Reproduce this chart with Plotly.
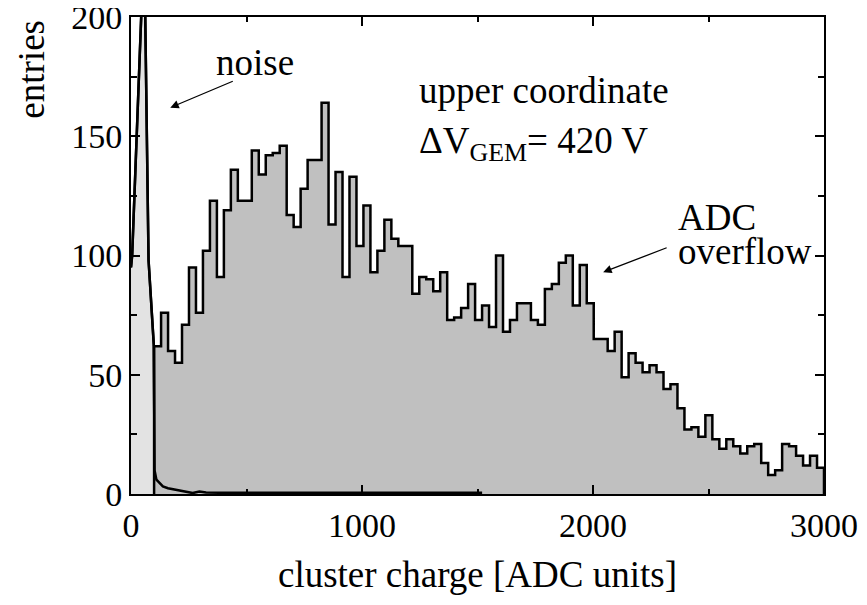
import numpy as np
import plotly.graph_objects as go

# ---- data ----
bin_start = 100
bin_end = 3000
signal_counts = [
    62, 76, 60, 55, 71, 95, 76, 102, 123, 91,
    119, 136, 123, 123, 144, 134, 142, 143, 146, 117,
    112, 128, 140, 140, 164, 113, 135, 91, 133, 104,
    121, 93, 102, 115, 107, 104, 104, 84, 91, 90,
    85, 93, 73, 74, 78, 88, 73, 79, 70, 100,
    68, 73, 80, 80, 73, 71, 86, 88, 97, 100,
    79, 96, 80, 65, 65, 60, 68, 49, 59, 55,
    51, 54, 51, 44, 46, 36, 27, 28, 24, 33,
    23, 19, 23, 20, 17, 20, 21, 13, 8, 10,
    21, 20, 16, 12, 16, 11,
]
noise_x = [0, 5, 57, 76, 99, 102, 110, 125, 138, 160, 181, 224, 267, 296, 325, 400, 700, 1077, 1100, 1237, 1300, 1520]
noise_y = [95, 100, 233, 98, 62, 10, 6, 4.5, 3.2, 2.4, 2.0, 1.0, 0.4, 1.0, 0.6, 0.5, 0.5, 0.8, 0.5, 0.8, 0.5, 0.5]

x_ticks = [0, 1000, 2000, 3000]
y_ticks = [0, 50, 100, 150, 200]

# ---- build step outline ----
n = len(signal_counts)
edges = np.linspace(bin_start, bin_end, n + 1)
step_x = [edges[0]] + list(edges[:-1]) + [edges[-1], edges[-1]]
step_y = [0] + signal_counts + [signal_counts[-1], 0]

FONT = "Liberation Serif, Times New Roman, serif"

fig = go.Figure()
# noise fill (light grey)
fig.add_trace(go.Scatter(x=noise_x, y=noise_y, mode="lines", fill="tozeroy",
                         fillcolor="#e3e3e3", line=dict(color="black", width=2.5),
                         hoverinfo="skip", showlegend=False))
# signal histogram
fig.add_trace(go.Scatter(x=step_x, y=step_y, mode="lines", line_shape="hv",
                         fill="tozeroy", fillcolor="#c0c0c0",
                         line=dict(color="black", width=2.5),
                         hoverinfo="skip", showlegend=False))
# noise line on top
fig.add_trace(go.Scatter(x=noise_x, y=noise_y, mode="lines",
                         line=dict(color="black", width=2.5),
                         hoverinfo="skip", showlegend=False))

ann_font = dict(family=FONT, size=37, color="black")
fig.add_annotation(x=0.4126, y=0.845, xref="paper", yref="paper", text="upper coordinate",
                   showarrow=False, xanchor="left", yanchor="middle", font=ann_font)
fig.add_annotation(x=0.4126, y=0.735, xref="paper", yref="paper",
                   text="ΔV<sub>GEM</sub>= 420 V",
                   showarrow=False, xanchor="left", yanchor="middle", font=ann_font)
fig.add_annotation(x=0.1785, y=0.905, xref="paper", yref="paper", text="noise",
                   showarrow=False, xanchor="center", yanchor="middle", font=ann_font)
fig.add_annotation(x=0.787, y=0.58, xref="paper", yref="paper", text="ADC",
                   showarrow=False, xanchor="left", yanchor="middle", font=ann_font)
fig.add_annotation(x=0.787, y=0.509, xref="paper", yref="paper", text="overflow",
                   showarrow=False, xanchor="left", yanchor="middle", font=ann_font)
# arrows
fig.add_annotation(x=170, y=162, xref="x", yref="y", text="", showarrow=True,
                   ax=64, ay=-27, arrowhead=2, arrowsize=1.3, arrowwidth=1.3, arrowcolor="black")
fig.add_annotation(x=2044, y=93, xref="x", yref="y", text="", showarrow=True,
                   ax=65, ay=-25, arrowhead=2, arrowsize=1.3, arrowwidth=1.3, arrowcolor="black")
# y title
fig.add_annotation(x=-0.144, y=0.89, xref="paper", yref="paper", text="entries",
                   textangle=-90, showarrow=False, xanchor="center", yanchor="middle",
                   font=ann_font)

tick_font = dict(family=FONT, size=34, color="black")
fig.update_xaxes(range=[0, 3000], tickvals=x_ticks, ticks="inside", ticklen=9,
                 tickwidth=1.5, tickcolor="black", showline=True, linewidth=2,
                 linecolor="black", mirror="ticks", showgrid=False, zeroline=False,
                 tickfont=tick_font, ticklabeloverflow="allow", automargin=False,
                 minor=dict(dtick=500, ticks="inside", ticklen=5, tickcolor="black", tickwidth=1.5),
                 title=dict(text="cluster charge [ADC units]", standoff=18,
                            font=dict(family=FONT, size=37, color="black")))
fig.update_yaxes(range=[0, 200], tickvals=y_ticks, ticks="inside", ticklen=9,
                 tickwidth=1.5, tickcolor="black", showline=True, linewidth=2,
                 linecolor="black", mirror="ticks", showgrid=False, zeroline=False,
                 tickfont=tick_font, ticklabeloverflow="allow", automargin=False,
                 minor=dict(dtick=25, ticks="inside", ticklen=6, tickcolor="black", tickwidth=1.5))

# page body has an 8px margin, so the figure is sized to fit the window exactly
fig.update_layout(width=859, height=597, plot_bgcolor="white", paper_bgcolor="white",
                  margin=dict(l=123, r=43, t=9, b=111), showlegend=False)

fig.write_html("out.html")
